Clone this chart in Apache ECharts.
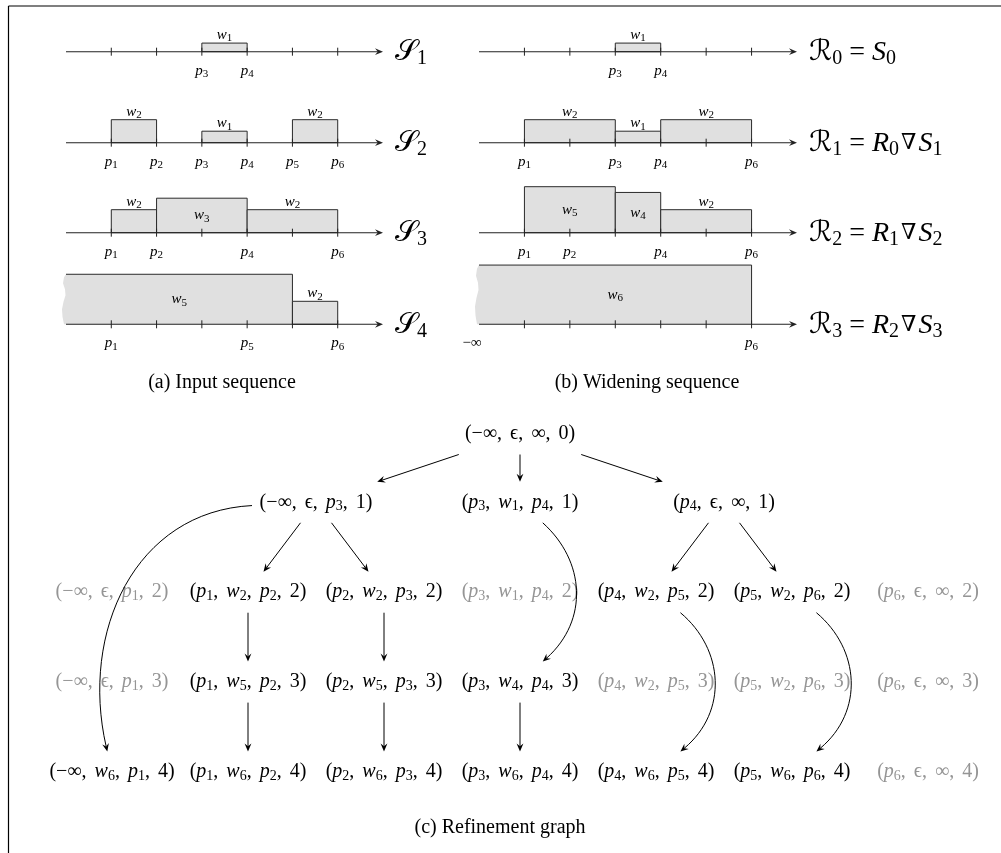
<!DOCTYPE html>
<html><head><meta charset="utf-8">
<script src="https://cdn.jsdelivr.net/npm/echarts@6/dist/echarts.min.js"></script>
<style>html,body{margin:0;padding:0;background:#fff}#c{width:1001px;height:853px}</style>
</head><body><div id="c"></div>
<script>
// ---------------- DATA ----------------
const TICK_POSITIONS = [1, 2, 3, 4, 5, 6];
const AXIS_END = 7;
const UNIT_MAX = 6;

// (a) Input sequence: bars [start, end, height, label]; start null = -infinity
const inputNames = ['𝒮_1', '𝒮_2', '𝒮_3', '𝒮_4'];
const s1Bars = [[3, 4, 1, 'w_1']];
const s2Bars = [[1, 2, 2, 'w_2'], [3, 4, 1, 'w_1'], [5, 6, 2, 'w_2']];
const s3Bars = [[1, 2, 2, 'w_2'], [2, 4, 3, 'w_3'], [4, 6, 2, 'w_2']];
const s4Bars = [[null, 5, 4.35, 'w_5'], [5, 6, 2, 'w_2']];
const s1Ticks = [[3, 'p_3'], [4, 'p_4']];
const s2Ticks = [[1, 'p_1'], [2, 'p_2'], [3, 'p_3'], [4, 'p_4'], [5, 'p_5'], [6, 'p_6']];
const s3Ticks = [[1, 'p_1'], [2, 'p_2'], [4, 'p_4'], [6, 'p_6']];
const s4Ticks = [[1, 'p_1'], [4, 'p_5'], [6, 'p_6']];

// (b) Widening sequence
const wideningNames = ['ℛ_0 = S_0', 'ℛ_1 = R_0∇S_1', 'ℛ_2 = R_1∇S_2', 'ℛ_3 = R_2∇S_3'];
const r0Bars = [[3, 4, 1, 'w_1']];
const r1Bars = [[1, 3, 2, 'w_2'], [3, 4, 1, 'w_1'], [4, 6, 2, 'w_2']];
const r2Bars = [[1, 3, 4, 'w_5'], [3, 4, 3.5, 'w_4'], [4, 6, 2, 'w_2']];
const r3Bars = [[null, 6, 5.15, 'w_6']];
const r0Ticks = [[3, 'p_3'], [4, 'p_4']];
const r1Ticks = [[1, 'p_1'], [3, 'p_3'], [4, 'p_4'], [6, 'p_6']];
const r2Ticks = [[1, 'p_1'], [2, 'p_2'], [4, 'p_4'], [6, 'p_6']];
const r3Ticks = [[-0.15, '−∞'], [6, 'p_6']];

// (c) Refinement graph: [label, column, row, active]
const rowLevels = [0, 0.76, 1.76, 2.76, 3.76];
const treeNodes = [
  ['(−∞, ϵ, ∞, 0)', 3, 0, 1],
  ['(−∞, ϵ, p_3, 1)', 1.5, 1, 1],
  ['(p_3, w_1, p_4, 1)', 3, 1, 1],
  ['(p_4, ϵ, ∞, 1)', 4.5, 1, 1],
  ['(−∞, ϵ, p_1, 2)', 0, 2, 0],
  ['(p_1, w_2, p_2, 2)', 1, 2, 1],
  ['(p_2, w_2, p_3, 2)', 2, 2, 1],
  ['(p_3, w_1, p_4, 2)', 3, 2, 0],
  ['(p_4, w_2, p_5, 2)', 4, 2, 1],
  ['(p_5, w_2, p_6, 2)', 5, 2, 1],
  ['(p_6, ϵ, ∞, 2)', 6, 2, 0],
  ['(−∞, ϵ, p_1, 3)', 0, 3, 0],
  ['(p_1, w_5, p_2, 3)', 1, 3, 1],
  ['(p_2, w_5, p_3, 3)', 2, 3, 1],
  ['(p_3, w_4, p_4, 3)', 3, 3, 1],
  ['(p_4, w_2, p_5, 3)', 4, 3, 0],
  ['(p_5, w_2, p_6, 3)', 5, 3, 0],
  ['(p_6, ϵ, ∞, 3)', 6, 3, 0],
  ['(−∞, w_6, p_1, 4)', 0, 4, 1],
  ['(p_1, w_6, p_2, 4)', 1, 4, 1],
  ['(p_2, w_6, p_3, 4)', 2, 4, 1],
  ['(p_3, w_6, p_4, 4)', 3, 4, 1],
  ['(p_4, w_6, p_5, 4)', 4, 4, 1],
  ['(p_5, w_6, p_6, 4)', 5, 4, 1],
  ['(p_6, ϵ, ∞, 4)', 6, 4, 0]
];
// [from, to, bend angle]
const treeEdges = [
  [0, 1, 0], [0, 2, 0], [0, 3, 0],
  [1, 5, 0], [1, 6, 0], [3, 8, 0], [3, 9, 0],
  [1, 18, -50], [2, 14, 48], [8, 22, 50], [9, 23, 50],
  [5, 12, 0], [6, 13, 0], [12, 19, 0], [13, 20, 0], [14, 21, 0]
];
const captions = ['(a) Input sequence', '(b) Widening sequence', '(c) Refinement graph'];

// ---------------- STYLE / LAYOUT ----------------
const SERIF = "'Liberation Serif','DejaVu Serif',serif";
const CAL = "'DejaVu Serif','DejaVu Sans','Liberation Serif',serif";
const FILL = '#e0e0e0', EDGE = '#2a2a2a', AXIS = '#222', INK = '#000', GRAY = '#959595';
const LINE_Y = [51.7, 142.7, 232.7, 324.3];
const UNIT_PX = 11.5;
const PANEL_LEFT = [66, 479];
const PANEL_WIDTH = [317, 318];

function richStyles(size, color, calSize, commaGap, nablaRatio) {
  return {
    n: {fontFamily: SERIF, fontSize: size, fill: color, color: color},
    i: {fontFamily: SERIF, fontStyle: 'italic', fontSize: size, fill: color, color: color},
    s: {fontFamily: SERIF, fontSize: Math.round(size * 0.7), fill: color, color: color, padding: [Math.round(size * 0.45), 0, 0, 0]},
    c: {fontFamily: CAL, fontSize: calSize || size, fill: color, color: color},
    v: {fontFamily: SERIF, fontSize: Math.round(size * (nablaRatio || 0.72)), fill: color, color: color, padding: [0, 2, 0, 2]},
    g: {fontFamily: SERIF, fontSize: size, fill: color, color: color, width: commaGap || Math.round(size * 0.25)}
  };
}
const RICH_SMALL = richStyles(15, INK);
const RICH_NAME = richStyles(28, INK, 29, 0, 0.8);
const RICH_NODE = richStyles(20, INK, 20, 8);
const RICH_NODE_GRAY = richStyles(20, GRAY, 20, 8);

function richify(str) {
  const chars = Array.from(str);
  let out = '';
  for (let k = 0; k < chars.length; k++) {
    const ch = chars[k];
    if (ch === '_') { out += '{s|' + chars[++k] + '}'; continue; }
    if (ch === ',' && chars[k + 1] === ' ') { out += '{n|,}{g| }'; k++; continue; }
    if (/[pwSR]/.test(ch)) out += '{i|' + ch + '}';
    else if (ch === '𝒮' || ch === 'ℛ') out += '{c|' + ch + '}';
    else if (ch === '∇') out += '{v|' + ch + '}';
    else out += '{n|' + ch + '}';
  }
  return out;
}

function arrowHead(tx, ty, ang, color) {
  const L = 8, W = 3.4, N = 5.2;
  const c = Math.cos(ang), s = Math.sin(ang);
  const bx = tx - L * c, by = ty - L * s;
  return {type: 'polygon', shape: {points: [[tx, ty], [bx - W * s, by + W * c], [tx - N * c, ty - N * s], [bx + W * s, by - W * c]]},
    style: {fill: color}};
}

// ---------------- NUMBER LINES ----------------
const grids = [], xAxes = [], yAxes = [], series = [];
const lines = [
  [0, 0, s1Bars, s1Ticks, inputNames[0]],
  [0, 1, s2Bars, s2Ticks, inputNames[1]],
  [0, 2, s3Bars, s3Ticks, inputNames[2]],
  [0, 3, s4Bars, s4Ticks, inputNames[3]],
  [1, 0, r0Bars, r0Ticks, wideningNames[0]],
  [1, 1, r1Bars, r1Ticks, wideningNames[1]],
  [1, 2, r2Bars, r2Ticks, wideningNames[2]],
  [1, 3, r3Bars, r3Ticks, wideningNames[3]]
];

lines.forEach(function (ln, gi) {
  const panel = ln[0], row = ln[1], bars = ln[2], ticks = ln[3], name = ln[4];
  grids.push({left: PANEL_LEFT[panel], width: PANEL_WIDTH[panel], top: LINE_Y[row] - UNIT_MAX * UNIT_PX, height: UNIT_MAX * UNIT_PX});
  xAxes.push({type: 'value', gridIndex: gi, min: 0, max: AXIS_END, show: false});
  yAxes.push({type: 'value', gridIndex: gi, min: 0, max: UNIT_MAX, show: false});

  // bars
  series.push({
    type: 'custom', xAxisIndex: gi, yAxisIndex: gi, clip: false, z: 1, silent: true,
    data: bars.map(function (b) { return [b[0] === null ? 0 : b[0], b[2], b[1]]; }),
    renderItem: function (params, api) {
      const b = bars[params.dataIndex];
      const base = api.coord([b[1], 0]);
      const tr = api.coord([b[1], b[2]]);
      const x1 = tr[0], top = tr[1], y0 = base[1];
      const x0 = api.coord([b[0] === null ? 0 : b[0], 0])[0];
      const children = [];
      if (b[0] === null) {
        const h = y0 - top;
        const pts = [[x0, top], [x1, top], [x1, y0]];
        const wave = [[-2, 1], [-3.5, 0.85], [-4, 0.7], [-2.5, 0.55], [-0.5, 0.42], [-1, 0.3], [-3, 0.18], [-2, 0.06], [0, 0]];
        wave.forEach(function (w) { pts.push([x0 + w[0], top + h * w[1]]); });
        children.push({type: 'polygon', shape: {points: pts, smooth: 0}, style: {fill: FILL}});
        children.push({type: 'polyline', shape: {points: [[x0, top], [x1, top], [x1, y0]]}, style: {stroke: EDGE, lineWidth: 1, fill: null}});
      } else {
        children.push({type: 'rect', shape: {x: x0, y: top, width: x1 - x0, height: y0 - top}, style: {fill: FILL, stroke: EDGE, lineWidth: 1}});
      }
      const ly = b[2] <= 2 ? top - 8 : (top + y0) / 2;
      children.push({type: 'text', x: (x0 + x1) / 2, y: ly, style: {text: richify(b[3]), rich: RICH_SMALL, align: 'center', verticalAlign: 'middle'}});
      return {type: 'group', children: children};
    }
  });

  // axis line + ticks + line name
  series.push({
    type: 'custom', xAxisIndex: gi, yAxisIndex: gi, clip: false, z: 2, silent: true,
    data: TICK_POSITIONS.map(function (t) { return [t, 0]; }),
    renderItem: function (params, api) {
      const p = api.coord([TICK_POSITIONS[params.dataIndex], 0]);
      const children = [{type: 'line', shape: {x1: p[0], y1: p[1] - 4, x2: p[0], y2: p[1] + 4}, style: {stroke: AXIS, lineWidth: 1}}];
      if (params.dataIndex === 0) {
        const a = api.coord([0, 0]), b = api.coord([AXIS_END, 0]);
        children.push({type: 'line', shape: {x1: a[0], y1: a[1], x2: b[0] - 5, y2: b[1]}, style: {stroke: AXIS, lineWidth: 1.1}});
        children.push(arrowHead(b[0], b[1], 0, AXIS));
        children.push({type: 'text', x: b[0] + 12, y: b[1] + 1, style: {text: richify(name), rich: RICH_NAME, align: 'left', verticalAlign: 'middle'}});
      }
      return {type: 'group', children: children};
    }
  });

  // tick labels
  series.push({
    type: 'custom', xAxisIndex: gi, yAxisIndex: gi, clip: false, z: 3, silent: true,
    data: ticks.map(function (t) { return [t[0], 0]; }),
    renderItem: function (params, api) {
      const t = ticks[params.dataIndex];
      const p = api.coord([t[0], 0]);
      return {type: 'text', x: p[0], y: p[1] + 19, style: {text: richify(t[1]), rich: RICH_SMALL, align: 'center', verticalAlign: 'middle'}};
    }
  });
});

// ---------------- REFINEMENT GRAPH ----------------
const TG = grids.length;
grids.push({left: 112, width: 816, top: 434, height: 338});
xAxes.push({type: 'value', gridIndex: TG, min: 0, max: 6, show: false});
yAxes.push({type: 'value', gridIndex: TG, min: 0, max: rowLevels[rowLevels.length - 1], inverse: true, show: false});

const HW = 64, HH = 20.5, NOTCH = 5.2;
function nodeXY(api, id) {
  const n = treeNodes[id];
  return api.coord([n[1], rowLevels[n[2]]]);
}
function border(C, ang) {
  const c = Math.cos(ang), s = Math.sin(ang);
  const t = Math.min(Math.abs(c) > 1e-6 ? HW / Math.abs(c) : 1e9, Math.abs(s) > 1e-6 ? HH / Math.abs(s) : 1e9);
  return [C[0] + t * c, C[1] + t * s];
}

series.push({
  type: 'custom', xAxisIndex: TG, yAxisIndex: TG, clip: false, z: 3, silent: true,
  data: treeNodes.map(function (n) { return [n[1], rowLevels[n[2]]]; }),
  renderItem: function (params, api) {
    const n = treeNodes[params.dataIndex];
    const p = nodeXY(api, params.dataIndex);
    return {type: 'text', x: p[0], y: p[1], style: {text: richify(n[0]), rich: n[3] ? RICH_NODE : RICH_NODE_GRAY, fill: n[3] ? INK : GRAY, align: 'center', verticalAlign: 'middle'}};
  }
});

series.push({
  type: 'custom', xAxisIndex: TG, yAxisIndex: TG, clip: false, z: 4, silent: true,
  data: treeEdges.map(function (e) { return [treeNodes[e[0]][1], rowLevels[treeNodes[e[0]][2]]]; }),
  renderItem: function (params, api) {
    const e = treeEdges[params.dataIndex];
    const A = nodeXY(api, e[0]), B = nodeXY(api, e[1]);
    const chord = Math.atan2(B[1] - A[1], B[0] - A[0]);
    const bend = e[2] * Math.PI / 180;
    const out = chord - bend, inn = chord + bend;
    const S = border(A, out), E = border(B, inn + Math.PI);
    const ci = Math.cos(inn), si = Math.sin(inn);
    const Ee = [E[0] - NOTCH * ci, E[1] - NOTCH * si];
    const children = [];
    if (!e[2]) {
      children.push({type: 'line', shape: {x1: S[0], y1: S[1], x2: Ee[0], y2: Ee[1]}, style: {stroke: INK, lineWidth: 1}});
    } else {
      const L = Math.hypot(E[0] - S[0], E[1] - S[1]);
      const d = 0.3915 * L * 1.05;
      children.push({type: 'bezierCurve', shape: {
        x1: S[0], y1: S[1], x2: Ee[0], y2: Ee[1],
        cpx1: S[0] + d * Math.cos(out), cpy1: S[1] + d * Math.sin(out),
        cpx2: Ee[0] - d * ci, cpy2: Ee[1] - d * si
      }, style: {stroke: INK, lineWidth: 1, fill: null}});
    }
    children.push(arrowHead(E[0], E[1], inn, INK));
    return {type: 'group', children: children};
  }
});

const option = {
  animation: false,
  backgroundColor: '#fff',
  grid: grids, xAxis: xAxes, yAxis: yAxes, series: series,
  graphic: [
    {type: 'line', silent: true, shape: {x1: 8.5, y1: 6, x2: 8.5, y2: 853}, style: {stroke: '#000', lineWidth: 1.2}},
    {type: 'line', silent: true, shape: {x1: 8.5, y1: 6, x2: 1001, y2: 6}, style: {stroke: '#000', lineWidth: 1.2}},
    {type: 'text', silent: true, x: 222, y: 383, style: {text: captions[0], fontFamily: SERIF, fontSize: 20, fill: INK, align: 'center', verticalAlign: 'middle'}},
    {type: 'text', silent: true, x: 647, y: 383, style: {text: captions[1], fontFamily: SERIF, fontSize: 20, fill: INK, align: 'center', verticalAlign: 'middle'}},
    {type: 'text', silent: true, x: 500, y: 828, style: {text: captions[2], fontFamily: SERIF, fontSize: 20, fill: INK, align: 'center', verticalAlign: 'middle'}}
  ]
};
const chart = echarts.init(document.getElementById('c'), null, {renderer: 'canvas'});
chart.setOption(option);
</script></body></html>
